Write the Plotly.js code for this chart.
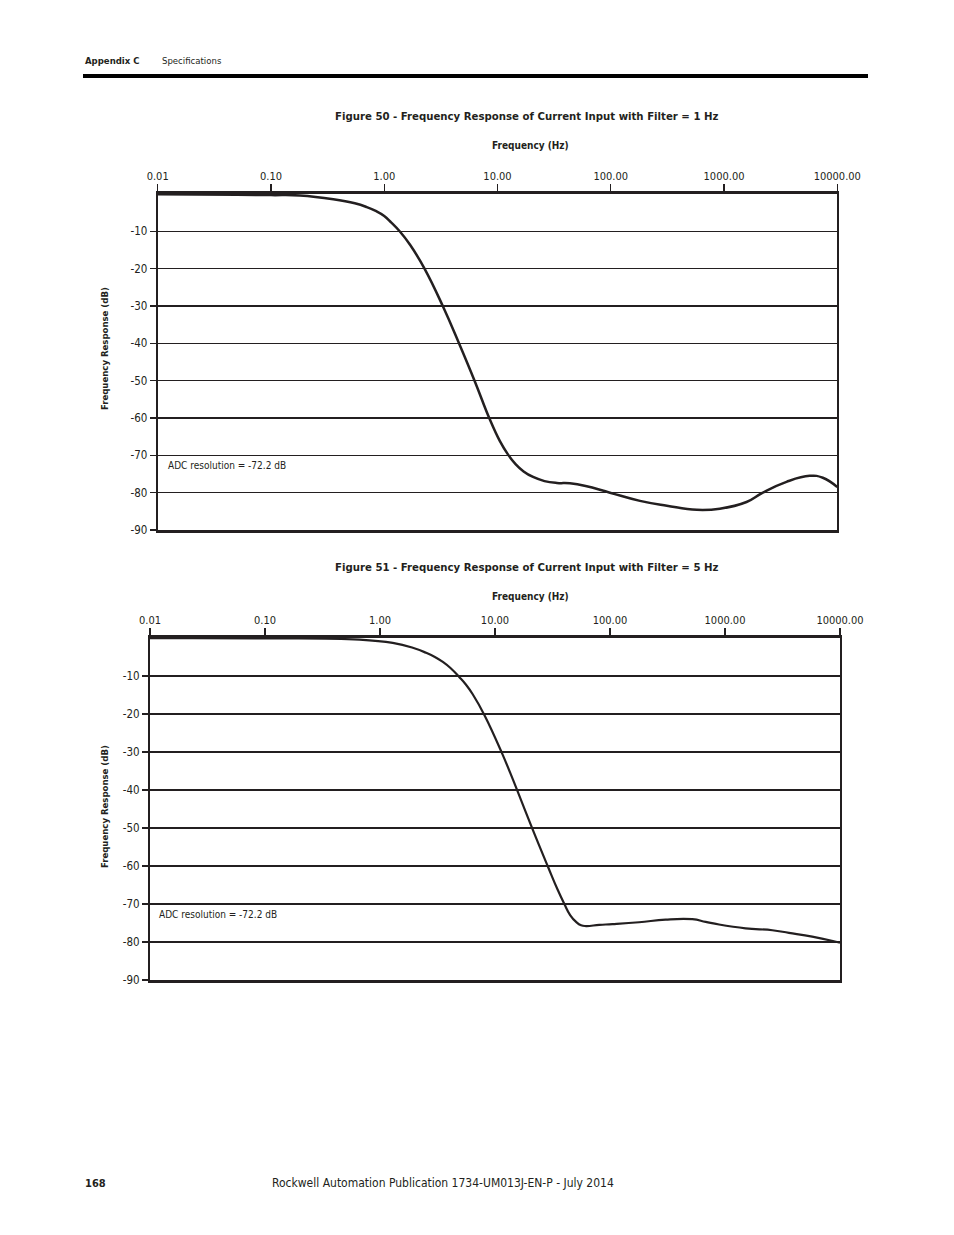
<!DOCTYPE html>
<html>
<head>
<meta charset="utf-8">
<script src="https://cdn.plot.ly/plotly-3.0.1.min.js"></script>
<style>
  html, body { margin: 0; padding: 0; background: #fff; }
  #page { width: 954px; height: 1235px; }
</style>
</head>
<body>
<div id="page"></div>
<script>
// Figure 50 - filter = 1 Hz
var freq_1hz = [0.01, 0.05, 0.1, 0.18, 0.355, 0.55, 0.70, 0.85, 1.0, 1.15, 1.38, 1.69, 2.28, 3.31, 4.59, 6.31, 8.45, 10.5, 12.4, 14.5, 17, 20.6, 26, 33.5, 43.6, 60, 98.4, 181, 313, 575, 918, 1580, 2200, 3560, 5710, 7450, 10000];
var db_1hz = [-0.1, -0.2, -0.3, -0.4, -1.4, -2.5, -3.5, -4.6, -5.9, -7.6, -10.1, -13.6, -20.1, -30.2, -40.1, -50.2, -60, -66.2, -69.8, -72.4, -74.3, -75.8, -76.9, -77.4, -77.5, -78.2, -80, -82.2, -83.5, -84.6, -84.3, -82.5, -80, -77.1, -75.5, -76, -78.5];

// Figure 51 - filter = 5 Hz
var freq_5hz = [0.01, 0.1, 0.665, 1.29, 1.9, 2.52, 3.0, 3.52, 4.1, 4.9, 5.6, 6.4, 8.1, 11.5, 15.7, 21.2, 28.7, 35, 40.1, 45, 50.7, 56, 61.9, 80.6, 105, 179, 305, 520, 679, 887, 1510, 2580, 3600, 5730, 8830, 10000];
var db_5hz = [-0.05, -0.1, -0.45, -1.3, -2.5, -3.9, -5.0, -6.3, -7.9, -10.3, -12.3, -14.8, -20.3, -30.3, -40.3, -50.3, -60, -66.2, -70, -72.9, -74.7, -75.6, -75.8, -75.5, -75.3, -74.8, -74.1, -74.0, -74.7, -75.4, -76.4, -76.9, -77.6, -78.6, -79.8, -80.2];

var freq_ticks = [0.01, 0.1, 1, 10, 100, 1000, 10000];
var freq_labels = ['0.01', '0.10', '1.00', '10.00', '100.00', '1000.00', '10000.00'];
var db_ticks = [-10, -20, -30, -40, -50, -60, -70, -80, -90];
var db_labels = ['-10', '-20', '-30', '-40', '-50', '-60', '-70', '-80', '-90'];

var ink = '#231f20';
var fontFam = 'DejaVu Sans Condensed, Liberation Sans Narrow, sans-serif';

// page pixel -> paper fraction
function px(x){ return x / 954; }
function py(y){ return 1 - y / 1235; }

function xAxis(left, right){
  return {
    type: 'log',
    domain: [px(left), px(right)],
    range: [-2, 4],
    side: 'top',
    tickvals: freq_ticks,
    ticktext: freq_labels,
    ticks: 'outside',
    ticklen: 7,
    tickwidth: 1.2,
    tickcolor: ink,
    showgrid: false,
    showline: true,
    linewidth: 3,
    linecolor: ink,
    mirror: true,
    zeroline: false,
    tickfont: {size: 11, color: ink},
    fixedrange: true
  };
}

function yAxis(top, bottom){
  return {
    domain: [py(bottom), py(top)],
    range: [-90, 0],
    tickvals: db_ticks,
    ticktext: db_labels,
    ticks: 'outside',
    ticklen: 6,
    tickwidth: 1.2,
    tickcolor: ink,
    showgrid: true,
    gridcolor: ink,
    gridwidth: 1.2,
    showline: true,
    linewidth: 2,
    linecolor: ink,
    mirror: true,
    zeroline: false,
    tickfont: {size: 11.5, color: ink},
    fixedrange: true
  };
}

var data = [
  {
    x: freq_1hz, y: db_1hz,
    type: 'scatter', mode: 'lines',
    line: {color: ink, width: 2.5, shape: 'spline', smoothing: 1.3},
    xaxis: 'x', yaxis: 'y',
    hoverinfo: 'skip'
  },
  {
    x: freq_5hz, y: db_5hz,
    type: 'scatter', mode: 'lines',
    line: {color: ink, width: 2.2, shape: 'spline', smoothing: 1.3},
    xaxis: 'x2', yaxis: 'y2',
    hoverinfo: 'skip'
  }
];

var y2 = yAxis(638, 980);
y2.anchor = 'x2';
var x2 = xAxis(150, 840);
x2.anchor = 'y2';

var layout = {
  width: 954,
  height: 1235,
  margin: {l: 0, r: 0, t: 0, b: 0},
  paper_bgcolor: '#fff',
  plot_bgcolor: '#fff',
  showlegend: false,
  font: {family: fontFam, color: ink},
  xaxis: xAxis(157.7, 837.3),
  yaxis: yAxis(194, 530),
  xaxis2: x2,
  yaxis2: y2,
  shapes: [
    {type: 'line', xref: 'paper', yref: 'paper',
     x0: px(83), x1: px(868), y0: py(76), y1: py(76),
     line: {color: '#000', width: 4}}
  ],
  annotations: [
    {text: '<b>Appendix C</b>', x: px(83), y: py(60), xanchor: 'left', font: {size: 9.5}},
    {text: 'Specifications', x: px(160), y: py(60), xanchor: 'left', font: {size: 9.5}},

    {text: '<b>Figure 50 - Frequency Response of Current Input with Filter = 1 Hz</b>', x: px(527), y: py(117), font: {size: 11.3}},
    {text: '<b>Frequency (Hz)</b>', x: px(530), y: py(146), font: {size: 10}},
    {text: '<b>Frequency Response (dB)</b>', x: px(104), y: py(349), textangle: -90, font: {size: 9.5}},
    {text: 'ADC resolution = -72.2 dB', x: px(166), y: py(465), xanchor: 'left', font: {size: 10}},

    {text: '<b>Figure 51 - Frequency Response of Current Input with Filter = 5 Hz</b>', x: px(527), y: py(567), font: {size: 11.3}},
    {text: '<b>Frequency (Hz)</b>', x: px(530), y: py(596), font: {size: 10}},
    {text: '<b>Frequency Response (dB)</b>', x: px(104), y: py(807), textangle: -90, font: {size: 9.5}},
    {text: 'ADC resolution = -72.2 dB', x: px(157), y: py(914), xanchor: 'left', font: {size: 10}},

    {text: '<b>168</b>', x: px(83), y: py(1183), xanchor: 'left', font: {size: 11}},
    {text: 'Rockwell Automation Publication 1734-UM013J-EN-P - July 2014', x: px(443), y: py(1183), font: {size: 12}}
  ].map(function(a){
    a.xref = 'paper'; a.yref = 'paper'; a.showarrow = false;
    if (!a.xanchor) a.xanchor = 'center';
    a.yanchor = 'middle';
    return a;
  })
};

Plotly.newPlot('page', data, layout, {displayModeBar: false, staticPlot: true});
</script>
</body>
</html>
